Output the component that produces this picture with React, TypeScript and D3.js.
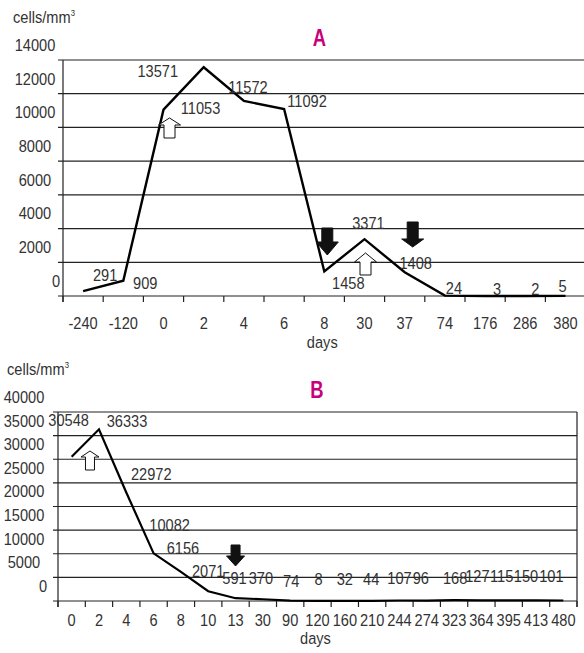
import React from 'react';
import * as d3 from 'd3';

// Panel A
const daysA = ['-240', '-120', '0', '2', '4', '6', '8', '30', '37', '74', '176', '286', '380'];
const cellsA = [291, 909, 11053, 13571, 11572, 11092, 1458, 3371, 1408, 24, 3, 2, 5];
const yTicksA = [0, 2000, 4000, 6000, 8000, 10000, 12000, 14000];

// Panel B
const daysB = ['0', '2', '4', '6', '8', '10', '13', '30', '90', '120', '160', '210', '244', '274', '323', '364', '395', '413', '480'];
const cellsB = [30548, 36333, 22972, 10082, 6156, 2071, 591, 370, 74, 8, 32, 44, 107, 96, 168, 127, 115, 150, 101];
const yTicksB = [0, 5000, 10000, 15000, 20000, 25000, 30000, 35000, 40000];

// arrows: category, value at top of arrow, direction, filled?
const arrowsA = [
  { day: '0', top: 10560, dir: 'up', dark: false },
  { day: '8', top: 4034, dir: 'down', dark: true },
  { day: '30', top: 2551, dir: 'up', dark: false },
  { day: '37', top: 4390, dir: 'down', dark: true },
];
const arrowsB = [
  { day: '2', top: 31746, dir: 'up', dark: false },
  { day: '13', top: 11852, dir: 'down', dark: true },
];

// hand-placed label nudges (px), like the original text boxes
const labelNudgeA = [[22, -16], [22, 2], [37, -2], [-46, 4], [4, -14], [23, -8], [24, 12], [4, -16], [11, -9], [9, -7], [12, -7], [10, -7], [-3, -10]];
const labelNudgeB = [[-3, -37], [28, -8], [25, -18], [16, -28], [2, -24], [0, -20], [-1, -20], [-2, -21], [1, -20], [1, -22], [0, -22], [-1, -22], [0, -22], [-6, -22], [1, -22], [-4, -24], [-7, -24], [-10, -24], [-12, -24]];
const arrowDxA = [6, 3, 1, 8];
const arrowDxB = [-9, 0];
const arrowSizeA = [[20, 7], [27, 13], [22, 9], [25, 8]];
const arrowSizeB = [[19, 6], [21, 10]];

const FONT = '"Liberation Sans", Arial, sans-serif';
const INK = '#333';
const MAGENTA = '#c8007c';
const SQUEEZE = 0.86;

// narrow text: Liberation Sans squeezed horizontally
function T({ x, y, children, size = 17, anchor = 'middle', weight = 'normal', fill = INK, sx = SQUEEZE }) {
  return (
    <text transform={`translate(${x},${y}) scale(${sx},1)`} fontSize={size} textAnchor={anchor}
      dominantBaseline="central" fontWeight={weight} fill={fill}>{children}</text>
  );
}

function Arrow({ cx, top, h, headH, dir, dark, headW = 22, shaftW = 11 }) {
  const hw = headW / 2, sw = shaftW / 2;
  let pts;
  if (dir === 'up') {
    pts = [[cx, top], [cx + hw, top + headH], [cx + sw, top + headH], [cx + sw, top + h], [cx - sw, top + h], [cx - sw, top + headH], [cx - hw, top + headH]];
  } else {
    const b = top + h;
    pts = [[cx, b], [cx + hw, b - headH], [cx + sw, b - headH], [cx + sw, top], [cx - sw, top], [cx - sw, b - headH], [cx - hw, b - headH]];
  }
  return <polygon points={pts.map(p => p.join(',')).join(' ')} fill={dark ? '#111' : '#fff'} stroke="#111" strokeWidth={1} />;
}

function Panel({ title, days, values, yTicks, yMax, left, right, gridRight, top, bottom, labelX, zeroX, titleY, unitX, unitY, tickY, daysY, nudge, arrows, arrowDx, arrowSize, frame, lineW, arrowW }) {
  const x = d3.scaleBand().domain(days).range([left, right]);
  const y = d3.scaleLinear().domain([0, yMax]).range([bottom, top]);
  const cx = d => x(d) + x.bandwidth() / 2;
  const line = d3.line().x((d, i) => cx(days[i])).y(d => y(d));
  const bounds = days.map(d => x(d)).concat([right]);
  return (
    <g fontFamily={FONT} fill={INK}>
      <text transform={`translate(${unitX},${unitY}) scale(${SQUEEZE},1)`} fontSize={17} fill={INK}>cells/mm<tspan fontSize={9} dy={-7}>3</tspan></text>
      <T x={(left + 580) / 2 - 2} y={titleY} size={23} weight="bold" fill={MAGENTA} sx={0.8}>{title}</T>
      {yTicks.map(t => (
        <g key={t}>
          <line x1={left - 5} x2={gridRight} y1={y(t)} y2={y(t)} stroke="#222" strokeWidth={1.2} />
          <T x={t === 0 ? zeroX : labelX} y={y(t) - 15}>{t}</T>
        </g>
      ))}
      <line x1={left} x2={left} y1={top} y2={bottom + 6} stroke="#222" strokeWidth={1.2} />
      {frame && <line x1={right} x2={right} y1={top} y2={bottom + 6} stroke="#222" strokeWidth={1.2} />}
      {bounds.map((b, i) => (
        <line key={i} x1={b} x2={b} y1={bottom} y2={bottom + 6} stroke="#222" strokeWidth={1.2} />
      ))}
      {days.map(d => (
        <T key={d} x={cx(d)} y={bottom + tickY}>{d}</T>
      ))}
      <T x={(left + right) / 2 - 2} y={bottom + daysY}>days</T>
      <path d={line(values)} fill="none" stroke="#000" strokeWidth={lineW} strokeLinejoin="miter" />
      {values.map((v, i) => (
        <T key={i} x={cx(days[i]) + nudge[i][0]} y={y(v) + nudge[i][1]}>{v}</T>
      ))}
      {arrows.map((a, i) => (
        <Arrow key={i} cx={cx(a.day) + arrowDx[i]} top={y(a.top)} h={arrowSize[i][0]} headH={arrowSize[i][1]} dir={a.dir} dark={a.dark} headW={arrowW[0]} shaftW={arrowW[1]} />
      ))}
    </g>
  );
}

export default function App() {
  return (
    <svg width={584} height={653} style={{ position: 'absolute', left: 0, top: 0, background: '#fff' }}>
      <rect width={584} height={653} fill="#fff" />
      <Panel title="A" days={daysA} values={cellsA} yTicks={yTicksA} yMax={14000}
        left={63} right={585.6} gridRight={584} top={60} bottom={296}
        labelX={35} zeroX={56} titleY={38} unitX={13} unitY={23} tickY={27} daysY={46}
        nudge={labelNudgeA} arrows={arrowsA} arrowDx={arrowDxA} arrowSize={arrowSizeA}
        frame={false} lineW={2.4} arrowW={[22, 11]} />
      <Panel title="B" days={daysB} values={cellsB} yTicks={yTicksB} yMax={40000}
        left={58} right={577} gridRight={577} top={412} bottom={601}
        labelX={24} zeroX={43} titleY={390} unitX={7} unitY={375} tickY={19} daysY={37}
        nudge={labelNudgeB} arrows={arrowsB} arrowDx={arrowDxB} arrowSize={arrowSizeB}
        frame={true} lineW={2.2} arrowW={[18, 9]} />
    </svg>
  );
}
